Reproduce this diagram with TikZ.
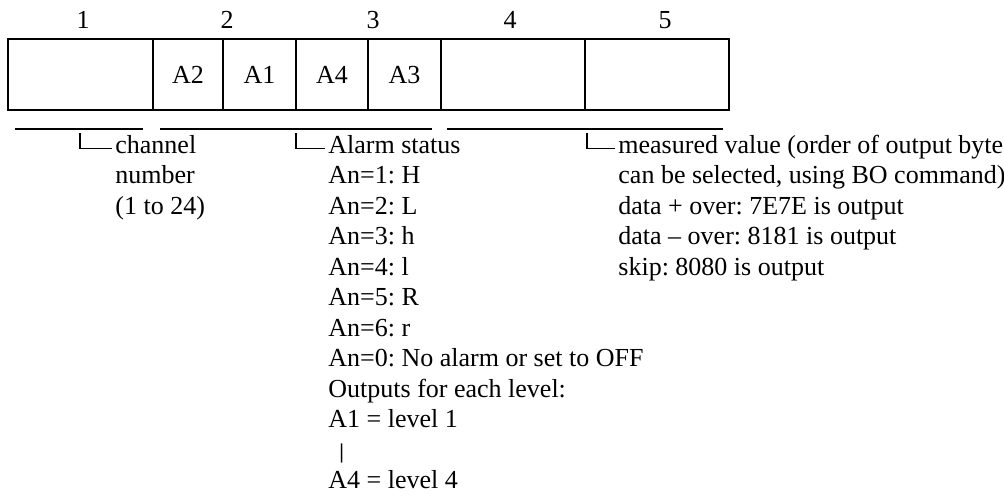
\documentclass[tikz,border=0pt]{standalone}
\usepackage{fontspec}
\setmainfont{Liberation Serif}
\usepackage{tikz}
\frenchspacing

\begin{document}
\begin{tikzpicture}[x=0.5pt, y=-0.5pt,
    every node/.style={inner sep=0pt, font=\fontsize{13}{15}\selectfont},
    cell/.style={line width=1pt},
    underline/.style={line width=1.1pt},
    hook/.style={line width=0.8pt},
    txt/.style={anchor=base west}]
    \useasboundingbox (0,0) rectangle (1004,499);

    % Byte numbers
    \node (n1) at (83,20) {1};
    \node (n2) at (227,20) {2};
    \node (n3) at (373,20) {3};
    \node (n4) at (510,20) {4};
    \node (n5) at (665,20) {5};

    % Frame and dividers
    \draw[cell] (8,39) rectangle (729,110);
    \draw[cell] (153,39) -- (153,110);
    \draw[cell] (223,39) -- (223,110);
    \draw[cell] (296,39) -- (296,110);
    \draw[cell] (368,39) -- (368,110);
    \draw[cell] (441,39) -- (441,110);
    \draw[cell] (585,39) -- (585,110);

    % Alarm bits
    \node (a2) at (188,75) {A2};
    \node (a1) at (259.5,75) {A1};
    \node (a4) at (332,75) {A4};
    \node (a3) at (404.5,75) {A3};

    % Underlines
    \coordinate (u1l) at (15,129);
    \coordinate (u1r) at (143,129);
    \coordinate (u2l) at (160,129);
    \coordinate (u2r) at (432,129);
    \coordinate (u3l) at (447,129);
    \coordinate (u3r) at (723,129);
    \draw[underline] (u1l) -- (u1r);
    \draw[underline] (u2l) -- (u2r);
    \draw[underline] (u3l) -- (u3r);

    % Channel number
    \node[txt] (ch0) at (115,153) {channel};
    \node[txt] (ch1) at (115,183.5) {number};
    \node[txt] (ch2) at (115,214) {(1 to 24)};

    % Alarm status
    \node[txt] (al0) at (328,153) {Alarm status};
    \node[txt] (al1) at (328,183.5) {An=1: H};
    \node[txt] (al2) at (328,214) {An=2: L};
    \node[txt] (al3) at (328,244.5) {An=3: h};
    \node[txt] (al4) at (328,275) {An=4: l};
    \node[txt] (al5) at (328,305.5) {An=5: R};
    \node[txt] (al6) at (328,336) {An=6: r};
    \node[txt] (al7) at (328,366.5) {An=0: No alarm or set to OFF};
    \node[txt] (al8) at (328,397) {Outputs for each level:};
    \node[txt] (al9) at (328,427.5) {A1 = level 1};
    \node[txt] (al10) at (339,458) {\bfseries\fontsize{10.5}{10}\selectfont |};
    \node[txt] (al11) at (328,488.5) {A4 = level 4};

    % Measured value
    \node[txt] (me0) at (618,153) {measured value (order of output byte};
    \node[txt] (me1) at (618,183.5) {can be selected, using BO command)};
    \node[txt] (me2) at (618,214) {data + over: 7E7E is output};
    \node[txt] (me3) at (618,244.5) {data -- over: 8181 is output};
    \node[txt] (me4) at (618,275) {skip: 8080 is output};

    % Hooks
    \coordinate (k1) at (80,133);
    \coordinate (k2) at (296,133);
    \coordinate (k3) at (587,133);
    \draw[hook] (k1) |- ([xshift=-1.5pt]ch0.mid west);
    \draw[hook] (k2) |- ([xshift=-1.5pt]al0.mid west);
    \draw[hook] (k3) |- ([xshift=-1.5pt]me0.mid west);
\end{tikzpicture}
\end{document}
